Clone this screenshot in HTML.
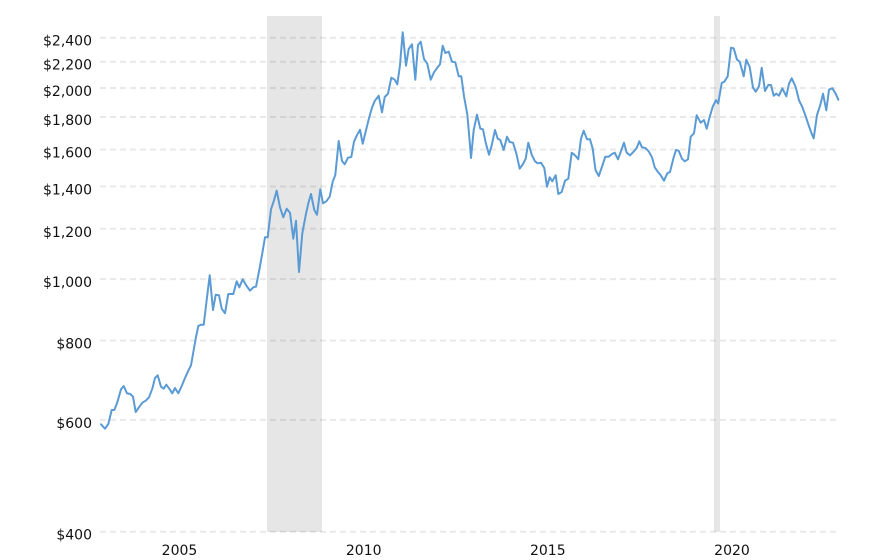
<!DOCTYPE html>
<html>
<head>
<meta charset="utf-8">
<style>
html,body{margin:0;padding:0;background:#fff;}
svg{display:block;}
text{font-family:"DejaVu Sans","Liberation Sans",sans-serif;font-size:14px;fill:#111;}
</style>
</head>
<body>
<svg width="888" height="560" viewBox="0 0 888 560" xmlns="http://www.w3.org/2000/svg">
<rect x="0" y="0" width="888" height="560" fill="#fff"/>
<!-- recession shading -->
<rect x="267" y="16" width="55" height="516" fill="#e6e6e6"/>
<rect x="714" y="16" width="6" height="516" fill="#e6e6e6"/>
<!-- gridlines -->
<g stroke="rgba(0,0,0,0.085)" stroke-width="2" stroke-dasharray="6,4">
<line x1="100" x2="836" y1="37.7" y2="37.7"/>
<line x1="100" x2="836" y1="61.7" y2="61.7"/>
<line x1="100" x2="836" y1="88" y2="88"/>
<line x1="100" x2="836" y1="117" y2="117"/>
<line x1="100" x2="836" y1="149.5" y2="149.5"/>
<line x1="100" x2="836" y1="186.5" y2="186.5"/>
<line x1="100" x2="836" y1="228.8" y2="228.8"/>
<line x1="100" x2="836" y1="279.1" y2="279.1"/>
<line x1="100" x2="836" y1="340.6" y2="340.6"/>
<line x1="100" x2="836" y1="419.9" y2="419.9"/>
<line x1="100" x2="836" y1="531.7" y2="531.7"/>
</g>
<!-- y labels -->
<g text-anchor="end">
<text x="92" y="45.7">$2,400</text>
<text x="92" y="69.7">$2,200</text>
<text x="92" y="96">$2,000</text>
<text x="92" y="125">$1,800</text>
<text x="92" y="157.5">$1,600</text>
<text x="92" y="194.5">$1,400</text>
<text x="92" y="236.8">$1,200</text>
<text x="92" y="287.1">$1,000</text>
<text x="92" y="348.6">$800</text>
<text x="92" y="427.9">$600</text>
<text x="92" y="539.7">$400</text>
</g>
<!-- x labels -->
<g text-anchor="middle">
<text x="179.5" y="555">2005</text>
<text x="363.7" y="555">2010</text>
<text x="547.8" y="555">2015</text>
<text x="732" y="555">2020</text>
</g>
<!-- series -->
<polyline fill="none" stroke="#5b9bd5" stroke-width="2" stroke-linejoin="round" stroke-linecap="round" points="
101,424.3 105,428.7 108.3,424 111.7,410 114.3,410 117,403.3 121,389.3 123.7,386 127,393.3 130.3,394 133,396.7 135.7,412 139,407.3 142.3,402.7 145.7,400.7 149,397.3 152.3,388.7 155,378 157.7,375.3 161,386.7 163.7,388.7 166.3,384.7 169.7,389.3 172.3,393.3 175,388 178.3,393.3 181.7,386 185,378 188.3,370.7 191,365.3 193.7,350 195.7,338.7 198.3,326 201,324.7 203.7,324.7 206.3,303.3 209.7,275.3 213,310 215.7,294.7 219,295.3 221.7,308.7 225,313.3 228.3,294 233.3,294 236.7,281.3 239.3,287.3 242.7,279.3 246,285 250,290.7 253.3,287.3 256,286.7 259.3,270 262.3,253.3 265,237.3 267.7,237.3 271,209.3 273.7,201.3 276.7,190.7 280,207.3 283.3,217.3 286.7,208.7 290,212.7 293.3,238.7 296,220.7 299,272 302.3,233.3 305.7,215.3 308.3,203.3 311,194 314.3,210 317,214.7 320.3,189.3 323,203.3 326.3,201.3 329.7,196.7 332.7,181.7 335.3,175 338.7,141 342,161 344.7,164.3 348,157.7 351.3,157 354,141.7 356.7,135.7 360,129.7 362.7,143.7 366,130.3 369.3,117 372,107.7 374.7,101 378.7,95.7 382,112.3 384.7,97 388,93.7 391.3,77.7 394.7,79.7 397.3,84.3 400,65 402.7,32.3 406,65.7 408.7,49 412,44.3 415.3,79.7 418,45 420.7,41.7 424,59 427.3,63.7 430.7,79.7 434,72.3 437.3,67.7 440,64.3 442.7,45.7 445.3,53 448.7,51.7 452,61.7 455.3,62.3 458.7,76.3 461.3,76.3 464,96.3 467.3,114.3 469,133.3 471,158 473.7,130 477,114.7 480.3,128.7 483,129.3 485.7,142.7 489,154.7 491.7,145.3 495,130 497.7,138.7 500.3,140 503.7,150 507,136.7 509.7,142 513,142.7 516.3,153.3 519.7,168.7 523,164 525.7,158.7 528.3,142.7 531.7,154.7 535,161.3 537.7,163.3 541,162.7 544.3,168 547,186.7 549.7,177.3 552.3,181.3 555.7,175.3 558.3,194 561.7,192 565,180.7 568.3,178.7 571.7,152.7 575,155.3 578.3,159.3 581,138.7 583.7,130.7 587,139.3 590,139.3 592.7,148.7 595.5,170 598.8,176 602,166.7 605.3,156.7 608.7,156.7 612,154 614.7,152.7 618,159.3 620.7,152 624,142.7 626.7,152.7 630,155.3 633.3,152 636.7,148 639.3,141.3 642,147.3 645.3,148 648.7,151.3 652,157.3 654.7,167.3 658,172 660.7,175.3 664,180.7 667.3,173.3 670,172 673.3,158.7 676,150 678.7,150.7 682,158.7 684.7,161.3 688,159.3 690.7,136.7 694,133.3 696.7,115.3 700.7,122.7 704,120 706.7,128.7 709.5,117.5 712.8,106.5 716,100.2 718.2,103.5 721.7,83 724.3,81.7 727.7,76.3 731,47.7 733.7,48.3 737,59.7 739.7,61.7 743.7,76.3 746.3,59.7 749.7,67 753,87.7 755.7,91.7 759,86.3 761.7,67.7 765,91 768.3,85 771,85 773.7,95.7 776.3,93.7 779,95.7 782.3,88.3 786.3,96.3 789,83.7 791.7,78.3 795.7,87 799,100.3 802.3,107 805.7,116.3 809,126.3 811.7,133.7 813.7,138.3 817,115 820.3,105 823,93.7 826.3,110.3 829,89.7 832.3,88.3 835.7,93.7 838.3,99.7"/>
</svg>
</body>
</html>
